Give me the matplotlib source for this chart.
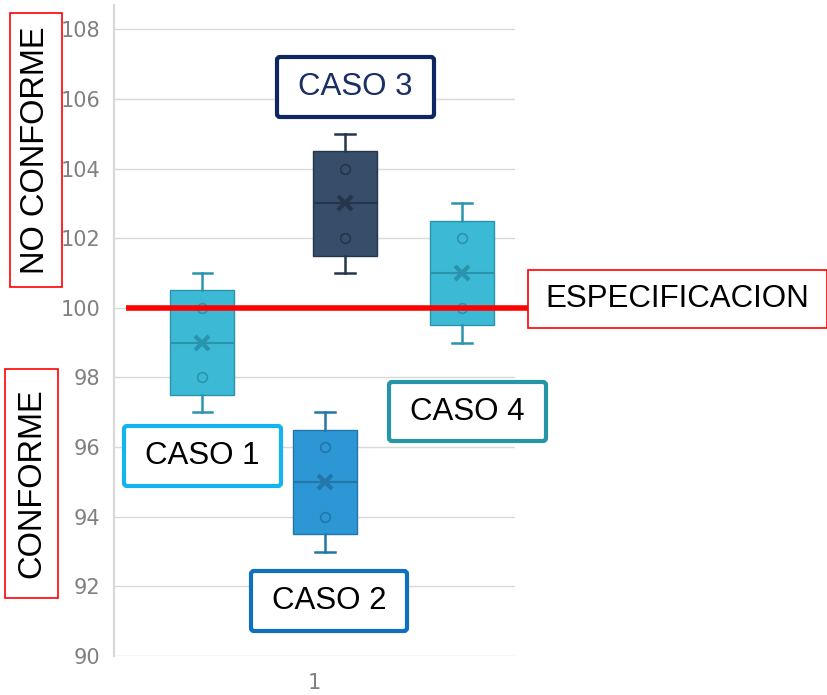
import numpy as np
import matplotlib
matplotlib.use('Agg')
import matplotlib.pyplot as plt
from matplotlib.patches import FancyBboxPatch

######################################################################

case_names = ['CASO 1', 'CASO 2', 'CASO 3', 'CASO 4']
caso_1 = [97, 98, 99, 100, 101]
caso_2 = [93, 94, 95, 96, 97]
caso_3 = [101, 102, 103, 104, 105]
caso_4 = [99, 100, 101, 102, 103]
especificacion = 100
category_labels = ['1']
y_ticks = [90, 92, 94, 96, 98, 100, 102, 104, 106, 108]

######################################################################

W, H = 828, 695
fig = plt.figure(figsize = (W / 100, H / 100), dpi = 100)

ax = fig.add_axes([114 / W, 1 - 656 / H, (515 - 114) / W, (656 - 5) / H])
ax.set_xlim(0, 1)
ax.set_ylim(90, 108.7)

grid_color = '#d9d9d9'
for s in ['top', 'right', 'bottom']:
    ax.spines[s].set_visible(False)
ax.spines['left'].set_color(grid_color)
ax.spines['left'].set_linewidth(1.6)
ax.set_yticks(y_ticks)
ax.yaxis.grid(True, color = grid_color, linewidth = 1.0)
ax.set_axisbelow(True)
ax.tick_params(axis = 'y', length = 0, pad = 10, labelsize = 15, labelcolor = '#808080')
ax.set_xticks([0.5])
ax.set_xticklabels(category_labels)
ax.tick_params(axis = 'x', length = 0, pad = 12, labelsize = 15, labelcolor = '#808080')
for lab in ax.get_xticklabels() + ax.get_yticklabels():
    lab.set_family(['Liberation Sans Narrow', 'DejaVu Sans'])

# ( data, position, fill colour, line colour )
box_param = [
    ( caso_1, 0.22,  '#3cb9d5', '#2a94ad' ),
    ( caso_2, 0.526, '#2c97d4', '#2276a8' ),
    ( caso_3, 0.576, '#364e6a', '#25364a' ),
    ( caso_4, 0.868, '#3cb9d5', '#2a94ad' ),
]

width = 0.16

for data, pos, fill, line in box_param:
    d = np.array(data, dtype = float)
    q1, med, q3 = np.percentile(d, [25, 50, 75], method = 'weibull')
    stats = [ dict(med = med, q1 = q1, q3 = q3, whislo = d.min(), whishi = d.max(),
                   mean = d.mean(), fliers = []) ]
    ax.bxp(stats, positions = [pos], widths = width, patch_artist = True,
           showmeans = False, showfliers = False, manage_ticks = False,
           boxprops = dict(facecolor = fill, edgecolor = line, linewidth = 1.0),
           medianprops = dict(color = line, linewidth = 1.5),
           whiskerprops = dict(color = line, linewidth = 1.8),
           capprops = dict(color = line, linewidth = 1.8),
           capwidths = width * 0.3)
    inner = d[(d > d.min()) & (d < d.max()) & (d != d.mean())]
    ax.plot([pos] * len(inner), inner, 'o', markersize = 7, markerfacecolor = 'none',
            markeredgecolor = line, markeredgewidth = 1.2, zorder = 4)
    ax.plot([pos], [d.mean()], 'x', markersize = 10, color = line,
            markeredgewidth = 3, zorder = 4)

ax.hlines(especificacion, 0.03, 1.032, color = '#ff0000', linewidth = 4,
          zorder = 5, clip_on = False)

######################################################################

ov = fig.add_axes([0, 0, 1, 1], zorder = 10)
ov.set_xlim(0, W)
ov.set_ylim(H, 0)
ov.axis('off')
ov.patch.set_alpha(0)

font = ['Liberation Sans', 'DejaVu Sans']

def label_box(x0, y0, x1, y1, text, edge, lw, text_color = 'black',
              rotation = 0, round_corners = False, size = 22.5):
    style = 'round,pad=0,rounding_size=3' if round_corners else 'square,pad=0'
    ov.add_patch(FancyBboxPatch((x0, y0), x1 - x0, y1 - y0, boxstyle = style,
                                facecolor = 'white', edgecolor = edge,
                                linewidth = lw, zorder = 10))
    ov.text((x0 + x1) / 2, (y0 + y1) / 2, text, ha = 'center', va = 'center',
            rotation = rotation, fontsize = size, color = text_color,
            family = font, zorder = 11)

label_box(10, 13, 62, 287, 'NO CONFORME', '#ff0000', 1.2, rotation = 90, size = 23.5)
label_box(5, 369, 58, 598, 'CONFORME', '#ff0000', 1.2, rotation = 90, size = 23.5)
label_box(528, 270, 827, 328, 'ESPECIFICACION', '#ff0000', 1.2)
label_box(277, 57, 434, 117, case_names[2], '#0f2760', 3, text_color = '#1b2f66',
          round_corners = True)
label_box(124, 426, 281, 486, case_names[0], '#16b4ee', 3, round_corners = True)
label_box(251, 571, 407, 631, case_names[1], '#0f6fc0', 3, round_corners = True)
label_box(389, 382, 546, 441, case_names[3], '#2795a8', 3, round_corners = True)

fig.savefig('out.png', dpi = 100)
